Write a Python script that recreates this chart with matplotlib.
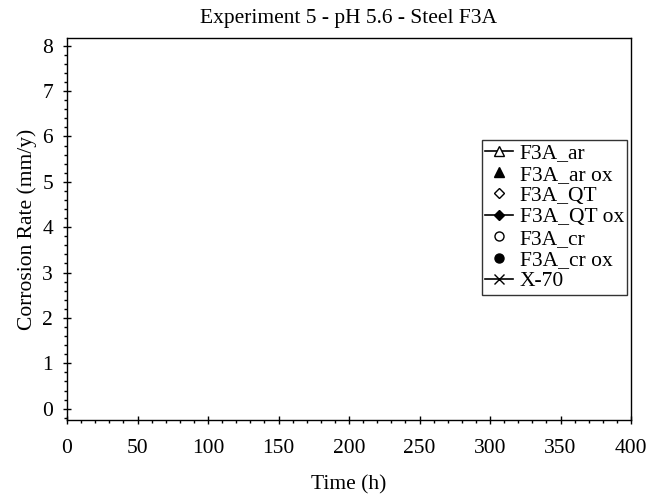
import matplotlib
matplotlib.use("Agg")
import matplotlib.pyplot as plt
from matplotlib.ticker import MultipleLocator

plt.rcParams["font.family"] = ["Liberation Serif", "DejaVu Serif"]

# the reference chart holds no data points, only the legend
series_names = ["F3A_ar", "F3A_ar ox", "F3A_QT", "F3A_QT ox", "F3A_cr", "F3A_cr ox", "X-70"]
series_time = [[], [], [], [], [], [], []]
series_rate = [[], [], [], [], [], [], []]

styles = [
    dict(marker="^", mfc="white", ls="-"),
    dict(marker="^", mfc="black", ls="none"),
    dict(marker="D", mfc="white", ls="none", ms=5),
    dict(marker="D", mfc="black", ls="-", ms=5),
    dict(marker="o", mfc="white", ls="none"),
    dict(marker="o", mfc="black", ls="none"),
    dict(marker="x", mfc="black", ls="-"),
]

FS = 15.5

fig = plt.figure(figsize=(6.72, 4.98), dpi=100)
ax = fig.add_axes([67 / 672, 78 / 498, 564 / 672, 382 / 498])

for name, t, r, st in zip(series_names, series_time, series_rate, styles):
    kw = dict(color="black", mec="black", lw=1.2, ms=6.5)
    kw.update(st)
    ax.plot(t, r, label=name, **kw)

ax.set_xlim(0, 400)
ax.set_ylim(-0.25, 8.17)
ax.xaxis.set_major_locator(MultipleLocator(50))
ax.xaxis.set_minor_locator(MultipleLocator(10))
ax.yaxis.set_major_locator(MultipleLocator(1))
ax.yaxis.set_minor_locator(MultipleLocator(0.2))
ax.tick_params(which="major", direction="inout", length=6, width=1, labelsize=FS)
ax.tick_params(axis="x", which="major", pad=11)
ax.tick_params(axis="y", which="major", pad=7)
ax.tick_params(which="minor", direction="out", length=2.5, width=1)
for s in ax.spines.values():
    s.set_linewidth(1)

ax.set_title("Experiment 5 - pH 5.6 - Steel F3A", fontsize=FS, pad=11)
ax.set_xlabel("Time (h)", fontsize=FS, labelpad=12)
ax.set_ylabel("Corrosion Rate (mm/y)", fontsize=FS, labelpad=4)

leg = ax.legend(loc="upper right", bbox_to_anchor=(560 / 564, 280 / 382), fontsize=FS,
                frameon=True, fancybox=False, edgecolor="black", handlelength=1.3,
                handletextpad=0.3, borderpad=0.15, labelspacing=0.06, borderaxespad=0)
leg.get_frame().set_linewidth(1)

fig.savefig("out.png", dpi=100)
